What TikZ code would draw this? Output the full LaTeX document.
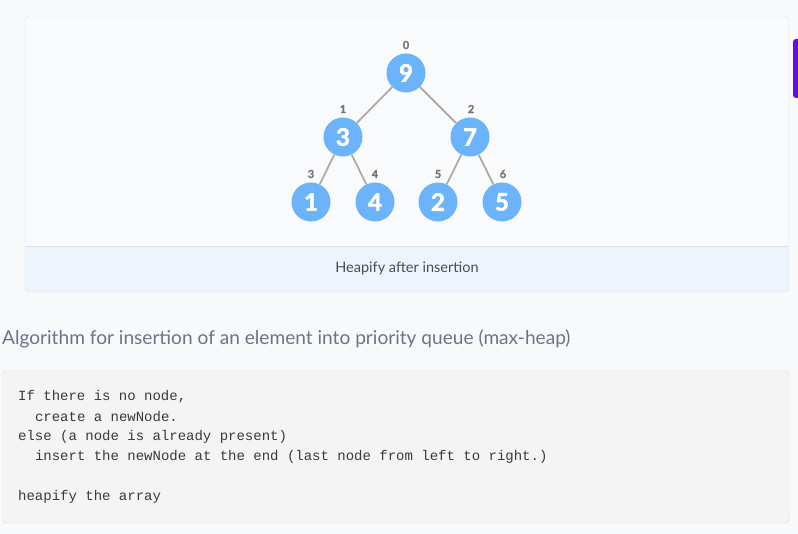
\documentclass[tikz,border=0pt]{standalone}
\usepackage{fontspec}
\setmainfont{Lato}
\setmonofont{Liberation Mono}
\newfontfamily\heavyfont[FakeBold=2.2]{Lato}
\newfontfamily\semifont[FakeBold=1.2]{Lato}
\definecolor{pagebg}{HTML}{F8F9FB}
\definecolor{cardbg}{HTML}{F9FAFC}
\definecolor{cardline}{HTML}{DCE2EA}
\definecolor{capbg}{HTML}{EEF4FC}
\definecolor{captxt}{HTML}{474C5E}
\definecolor{nodeblue}{HTML}{6BB3FA}
\definecolor{edgegray}{HTML}{ABABAB}
\definecolor{idxgray}{HTML}{777777}
\definecolor{headtxt}{HTML}{6E7385}
\definecolor{codebg}{HTML}{F4F4F4}
\definecolor{codeline}{HTML}{DEDEDE}
\definecolor{codetxt}{HTML}{3A3A3A}
\definecolor{purp}{HTML}{6A0BE8}
\tikzset{
  heapnode/.style={circle, fill=nodeblue, minimum size=39pt, inner sep=0pt, text=white, font=\fontsize{24}{24}\heavyfont\bfseries},
  idx/.style={text=idxgray, font=\fontsize{11}{11}\semifont\bfseries, inner sep=0pt},
  edge/.style={draw=edgegray, line width=1.8pt},
  codeln/.style={anchor=west, inner sep=0pt, text=codetxt, font=\fontsize{14}{14}\selectfont\ttfamily}
}
\begin{document}
\begin{tikzpicture}[x=1pt,y=-1pt]
\useasboundingbox (0,0) rectangle (798,534);
\fill[pagebg] (0,0) rectangle (798,534);
\begin{scope}
\clip (0,0) rectangle (798,534);
\fill[purp, rounded corners=3pt] (793,39) rectangle (812,98);
\end{scope}
% card
\fill[cardbg, rounded corners=4pt] (25,16) rectangle (789,292);
\begin{scope}
\clip[rounded corners=4pt] (25,16) rectangle (789,292);
\fill[capbg] (25,246) rectangle (789,292);
\end{scope}
\draw[cardline] (25,246) -- (789,246);
\draw[cardline, rounded corners=4pt] (25,16) rectangle (789,292);
\node[text=captxt, font=\fontsize{14.5}{14.5}\selectfont, inner sep=0pt] (cap) at (407,268) {Heapify after insertion};
% tree
\node[heapnode] (n0) at (406,73) {9};
\node[heapnode] (n1) at (343,137) {3};
\node[heapnode] (n2) at (470,137) {7};
\node[heapnode] (n3) at (311,202) {1};
\node[heapnode] (n4) at (375,202) {4};
\node[heapnode] (n5) at (438,202) {2};
\node[heapnode] (n6) at (502,202) {5};
\draw[edge] (n0) -- (n1);
\draw[edge] (n0) -- (n2);
\draw[edge] (n1) -- (n3);
\draw[edge] (n1) -- (n4);
\draw[edge] (n2) -- (n5);
\draw[edge] (n2) -- (n6);
\node[idx] (i0) at (406,45) {0};
\node[idx] (i1) at (343,109) {1};
\node[idx] (i2) at (471,109) {2};
\node[idx] (i3) at (311,174) {3};
\node[idx] (i4) at (375,174) {4};
\node[idx] (i5) at (438,174) {5};
\node[idx] (i6) at (503,174) {6};
% heading
\node[anchor=west, inner sep=0pt, text=headtxt, font=\fontsize{19.1}{19.1}\selectfont] (head) at (2,339) {Algorithm for insertion of an element into priority queue (max-heap)};
% code box
\draw[codeline, fill=codebg, rounded corners=4pt] (2,371) rectangle (789,523);
\node[codeln] (c1) at (18,397) {If there is no node,};
\node[codeln] (c2) at (18,417) {\ \ create a newNode.};
\node[codeln] (c3) at (18,437) {else (a node is already present)};
\node[codeln] (c4) at (18,457) {\ \ insert the newNode at the end (last node from left to right.)};
\node[codeln] (c5) at (18,497) {heapify the array};
\end{tikzpicture}
\end{document}
